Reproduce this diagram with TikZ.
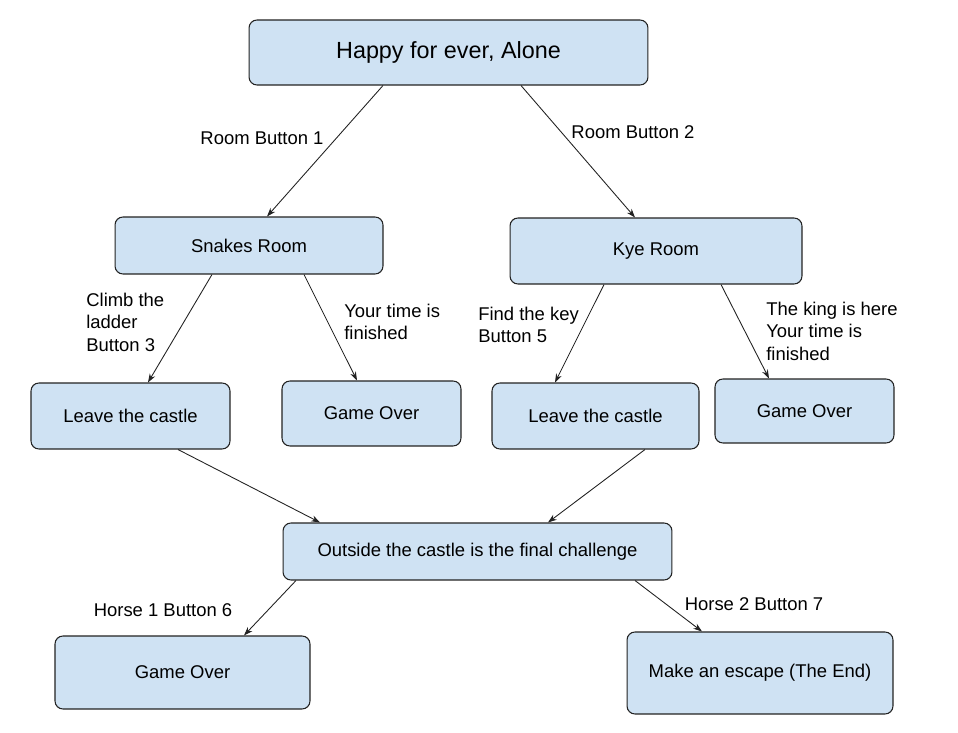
\documentclass[tikz,border=0pt]{standalone}
\usepackage{fontspec}
\setmainfont{Liberation Sans}
\usetikzlibrary{arrows.meta,calc,positioning}
\definecolor{boxfill}{HTML}{CFE2F3}
\definecolor{edge}{HTML}{222222}
\tikzset{pin/.style={-{Stealth[length=5pt,width=3.5pt]}, draw=edge, line width=0.5pt},
  blk/.style={draw=edge, line width=0.6pt, fill=boxfill, rounded corners=4.5pt, inner sep=0pt, align=center},
  lbl/.style={inner sep=0pt, align=left}}

\begin{document}
\begin{tikzpicture}[x=0.02cm, y=-0.02cm, font=\fontsize{10.5}{12.8}\selectfont]
  \useasboundingbox (0,0) rectangle (958,733);
  % top level
  \node[blk, minimum width=7.98cm, minimum height=1.3cm, font=\fontsize{13.3}{16}\selectfont] (start) at (448.5,52.5) {Happy for ever, Alone};
  % rooms
  \node[blk, minimum width=5.36cm, minimum height=1.14cm] (snakes) at (249,245.5) {Snakes Room};
  \node[blk, minimum width=5.84cm, minimum height=1.32cm] (kye) at (656,251) {Kye Room};
  \draw[pin] ($(start.south)+(-65.5,0)$) -- ($(snakes.north)+(18,0)$);
  \draw[pin] ($(start.south)+(72.5,0)$) -- ($(kye.north)+(-21,0)$);
  \node[lbl] (rb1) at (262,138) {Room Button 1};
  \node[lbl] (rb2) at (633,132) {Room Button 2};
  % second row
  \node[blk, minimum width=3.98cm, minimum height=1.32cm] (leave1) at (130.5,416) {Leave the castle};
  \node[blk, minimum width=3.58cm, minimum height=1.3cm] (over1) at (371.5,413.5) {Game Over};
  \node[blk, minimum width=4.14cm, minimum height=1.32cm] (leave2) at (595.5,416) {Leave the castle};
  \node[blk, minimum width=3.58cm, minimum height=1.28cm] (over2) at (804.5,411) {Game Over};
  \draw[pin] ($(snakes.south)+(-37,0)$) -- ($(leave1.north)+(17.5,0)$);
  \draw[pin] ($(snakes.south)+(55,0)$) -- ($(over1.north)+(-14.5,0)$);
  \draw[pin] ($(kye.south)+(-52,0)$) -- ($(leave2.north)+(-40.5,0)$);
  \draw[pin] ($(kye.south)+(65,0)$) -- ($(over2.north)+(-35.5,0)$);
  \node[lbl, anchor=west] (climb) at (86,322) {Climb the\\ladder\\Button 3};
  \node[lbl, anchor=west] (time1) at (344,322) {Your time is\\finished};
  \node[lbl, anchor=west] (findkey) at (478,325) {Find the key\\Button 5};
  \node[lbl, anchor=west] (king) at (766,331) {The king is here\\Your time is\\finished};
  % final challenge
  \node[blk, minimum width=7.78cm, minimum height=1.14cm] (outside) at (477.5,551.5) {Outside the castle is the final challenge};
  \draw[pin] ($(leave1.south)+(47.5,0)$) -- ($(outside.north)+(-157.5,0)$);
  \draw[pin] ($(leave2.south)+(49.5,0)$) -- ($(outside.north)+(70.5,0)$);
  % endings
  \node[blk, minimum width=5.1cm, minimum height=1.46cm] (over3) at (182.5,672.5) {Game Over};
  \node[blk, minimum width=5.32cm, minimum height=1.64cm] (escape) at (760,673) {Make an escape (The End)};
  \draw[pin] ($(outside.south)+(-181.5,0)$) -- ($(over3.north)+(61.5,0)$);
  \draw[pin] ($(outside.south)+(157.5,0)$) -- ($(escape.north)+(-58,0)$);
  \node[lbl] (horse1) at (163,610) {Horse 1 Button 6};
  \node[lbl] (horse2) at (754,604) {Horse 2 Button 7};
\end{tikzpicture}
\end{document}
